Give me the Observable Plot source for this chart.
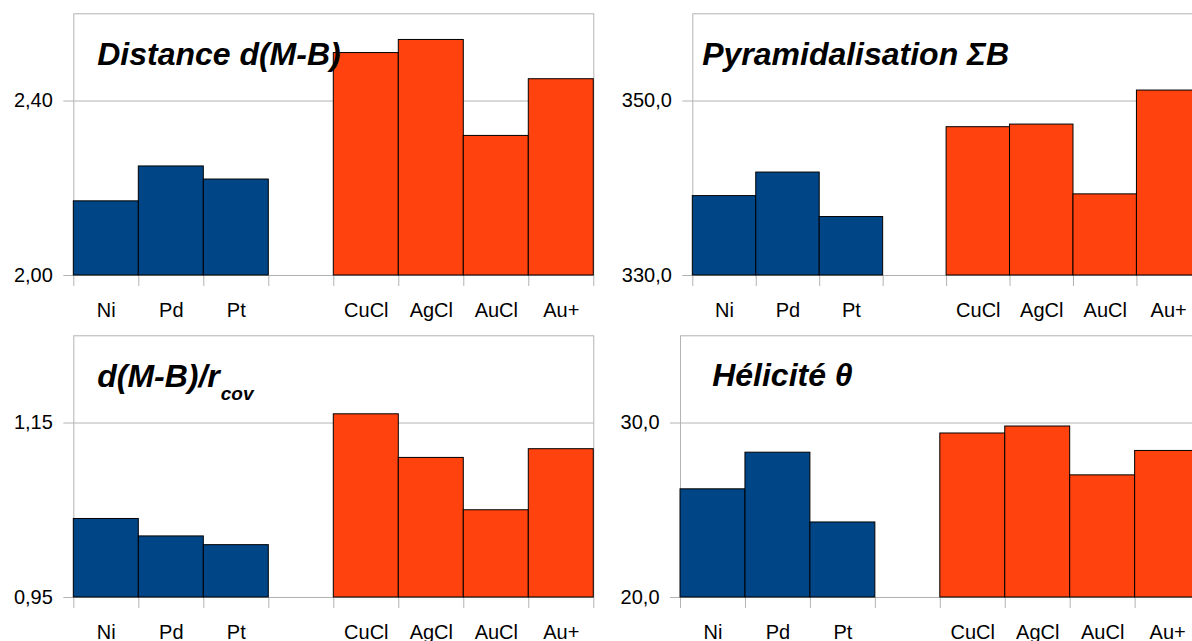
<!DOCTYPE html>
<html><head><meta charset="utf-8">
<script src="https://cdn.jsdelivr.net/npm/d3@7"></script>
<script src="https://cdn.jsdelivr.net/npm/@observablehq/plot@0.6"></script>
<style>
body{margin:0;background:#fff;}
#chart{position:relative;width:1192px;height:641px;overflow:hidden;background:#fff;}
#chart svg{position:absolute;overflow:visible;}
</style></head><body><div id="chart"></div>
<script>
// ---- data ----
const metals = ["Ni", "Pd", "Pt"];
const complexes = ["CuCl", "AgCl", "AuCl", "Au+"];
const distance = [2.17, 2.25, 2.22, 2.51, 2.54, 2.32, 2.45];
const pyramidalisation = [339.1, 341.8, 336.7, 347.0, 347.3, 339.3, 351.2];
const ratio = [1.040, 1.020, 1.010, 1.160, 1.110, 1.050, 1.120];
const helicity = [26.2, 28.3, 24.3, 29.4, 29.8, 27.0, 28.4];
const distanceDomain = [2.0, 2.6], distanceTicks = [2.0, 2.4];
const pyramidDomain = [330, 360], pyramidTicks = [330, 350];
const ratioDomain = [0.95, 1.25], ratioTicks = [0.95, 1.15];
const helicityDomain = [20, 35], helicityTicks = [20, 30];

// ---- styles ----
const FONT = "'Liberation Sans', Arial, sans-serif";
const BLUE = "#004586", ORANGE = "#ff420e", GRID = "#b3b3b3";
const GAP = " ";

function panel(p) {
  const cats = [...metals, ...complexes];
  const rows = cats.map((c, i) => ({cat: c, value: p.values[i], group: i < metals.length ? "metal" : "complex"}));
  const xDomain = [...metals, GAP, ...complexes];
  const innerW = p.band * xDomain.length;
  const mt = 13.3, ih = 261.7, mb = 46;
  const fmt = d => d.toFixed(p.decimals).replace(".", ",");
  const ymin = p.domain[0];
  const marks = [
    Plot.frame({stroke: GRID}),
    Plot.gridY({ticks: p.ticks, stroke: GRID, strokeOpacity: 1}),
    Plot.axisY({ticks: p.ticks, tickSize: 10, tickPadding: 11, tickFormat: fmt, fontSize: 20, stroke: GRID, strokeOpacity: 1}),
    Plot.ruleX(xDomain, {x: d => d, y1: ymin, y2: ymin, dx: -p.band / 2, insetBottom: -11, stroke: GRID}),
    Plot.ruleX([xDomain[xDomain.length - 1]], {x: d => d, y1: ymin, y2: ymin, dx: p.band / 2, insetBottom: -11, stroke: GRID}),
    Plot.barY(rows, {x: "cat", y1: ymin, y2: "value", fill: d => d.group === "metal" ? BLUE : ORANGE, stroke: "#000", strokeWidth: 1}),
    Plot.axisX({ticks: cats, tickSize: 0, tickPadding: 27, fontSize: 20}),
    Plot.text([p.title], {text: d => d, frameAnchor: "top-left", dx: p.tdx, dy: p.tdy, lineAnchor: "bottom", textAnchor: "start",
      fontSize: 32, fontWeight: "bold", fontStyle: "italic", fill: "#000"})
  ];
  if (p.sub) marks.push(Plot.text([p.sub], {text: d => d, frameAnchor: "top-left", dx: p.sdx, dy: p.sdy, lineAnchor: "bottom", textAnchor: "start",
      fontSize: 19, fontWeight: "bold", fontStyle: "italic", fill: "#000"}));
  const svg = Plot.plot({
    width: p.marginLeft + innerW + 2,
    height: mt + ih + mb,
    marginLeft: p.marginLeft, marginRight: 2, marginTop: mt, marginBottom: mb,
    style: {fontFamily: FONT, background: "transparent", color: "#000"},
    x: {type: "band", domain: xDomain, padding: 0, round: false, label: null},
    y: {domain: p.domain, label: null},
    color: {type: "identity"},
    marks
  });
  svg.style.left = p.left + "px";
  svg.style.top = p.top + "px";
  document.getElementById("chart").appendChild(svg);
}

panel({title: "Distance d(M-B)", values: distance, domain: distanceDomain, ticks: distanceTicks, decimals: 2,
  left: 0, top: 0, marginLeft: 73.3, band: 65, tdx: 23.4, tdy: 51.7});
panel({title: "Pyramidalisation ΣB", values: pyramidalisation, domain: pyramidDomain, ticks: pyramidTicks, decimals: 1,
  left: 600, top: 0, marginLeft: 92.3, band: 63.45, tdx: 9.4, tdy: 51.7});
panel({title: "d(M-B)/r", sub: "cov", values: ratio, domain: ratioDomain, ticks: ratioTicks, decimals: 2,
  left: 0, top: 321.7, marginLeft: 73.3, band: 65, tdx: 23.4, tdy: 51.7, sdx: 147, sdy: 64});
panel({title: "Hélicité θ", values: helicity, domain: helicityDomain, ticks: helicityTicks, decimals: 1,
  left: 600, top: 321.7, marginLeft: 80, band: 64.95, tdx: 31.7, tdy: 50});
</script></body></html>
